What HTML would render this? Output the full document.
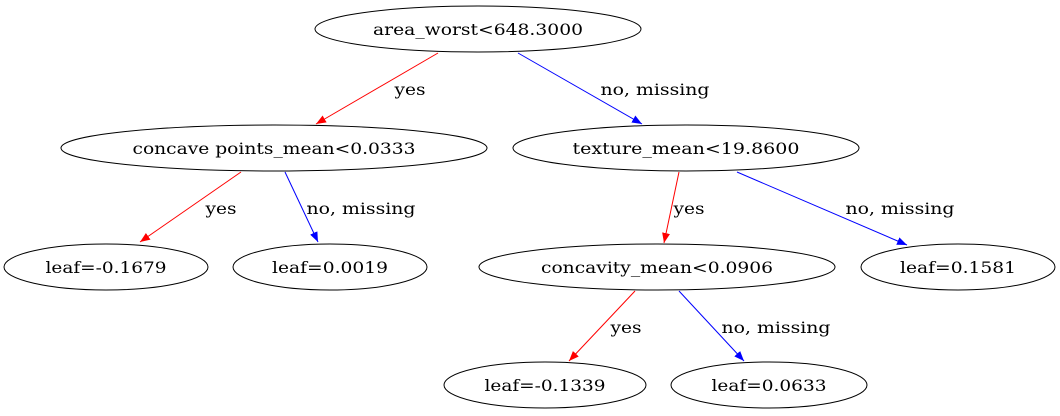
<!DOCTYPE html>
<html><head><meta charset="utf-8"><style>
html,body{margin:0;padding:0;background:#fff;width:1060px;height:416px;overflow:hidden}
text{font-family:"DejaVu Serif","Liberation Serif",serif;font-size:16px;fill:#000}
</style></head><body>
<svg width="1060" height="416" viewBox="0 0 1060 416" xmlns="http://www.w3.org/2000/svg">
<defs>
<marker id="r" viewBox="0 0 10 10" refX="10" refY="5" markerWidth="10" markerHeight="10" markerUnits="userSpaceOnUse" orient="auto"><path d="M0,1L10,5L0,9z" fill="#f00"/></marker>
<marker id="b" viewBox="0 0 10 10" refX="10" refY="5" markerWidth="10" markerHeight="10" markerUnits="userSpaceOnUse" orient="auto"><path d="M0,1L10,5L0,9z" fill="#00f"/></marker>
</defs>
<g fill="none" stroke="#000" stroke-width="1">
<ellipse cx="478" cy="29" rx="163" ry="23"/>
<ellipse cx="274" cy="148" rx="213" ry="23"/>
<ellipse cx="686" cy="148" rx="173" ry="23"/>
<ellipse cx="106" cy="267" rx="102" ry="23"/>
<ellipse cx="330" cy="267" rx="97" ry="23"/>
<ellipse cx="657" cy="267" rx="178" ry="23"/>
<ellipse cx="958" cy="267" rx="97" ry="23"/>
<ellipse cx="545" cy="385" rx="101" ry="23"/>
<ellipse cx="769" cy="385" rx="98" ry="23"/>
</g>
<g stroke-width="1">
<line x1="438" y1="53" x2="316" y2="124" stroke="#f00" marker-end="url(#r)"/>
<line x1="518" y1="53" x2="642" y2="124" stroke="#00f" marker-end="url(#b)"/>
<line x1="241" y1="172" x2="140" y2="242" stroke="#f00" marker-end="url(#r)"/>
<line x1="285" y1="172" x2="318" y2="242" stroke="#00f" marker-end="url(#b)"/>
<line x1="679" y1="172" x2="664" y2="243" stroke="#f00" marker-end="url(#r)"/>
<line x1="737" y1="172" x2="907" y2="245" stroke="#00f" marker-end="url(#b)"/>
<line x1="635" y1="291" x2="569" y2="361" stroke="#f00" marker-end="url(#r)"/>
<line x1="679" y1="291" x2="744" y2="361" stroke="#00f" marker-end="url(#b)"/>
</g>
<g text-anchor="middle">
<text x="478" y="35" textLength="210" lengthAdjust="spacingAndGlyphs">area_worst&lt;648.3000</text>
<text x="274" y="154" textLength="283" lengthAdjust="spacingAndGlyphs">concave points_mean&lt;0.0333</text>
<text x="686" y="154" textLength="227" lengthAdjust="spacingAndGlyphs">texture_mean&lt;19.8600</text>
<text x="106" y="273" textLength="121" lengthAdjust="spacingAndGlyphs">leaf=-0.1679</text>
<text x="330" y="273" textLength="116" lengthAdjust="spacingAndGlyphs">leaf=0.0019</text>
<text x="657" y="273" textLength="232" lengthAdjust="spacingAndGlyphs">concavity_mean&lt;0.0906</text>
<text x="958" y="273" textLength="116" lengthAdjust="spacingAndGlyphs">leaf=0.1581</text>
<text x="545" y="391" textLength="121" lengthAdjust="spacingAndGlyphs">leaf=-0.1339</text>
<text x="769" y="391" textLength="115" lengthAdjust="spacingAndGlyphs">leaf=0.0633</text>
<text x="410" y="95" textLength="31" lengthAdjust="spacingAndGlyphs">yes</text>
<text x="655" y="95" textLength="109" lengthAdjust="spacingAndGlyphs">no, missing</text>
<text x="221" y="214" textLength="31" lengthAdjust="spacingAndGlyphs">yes</text>
<text x="361" y="214" textLength="109" lengthAdjust="spacingAndGlyphs">no, missing</text>
<text x="689" y="214" textLength="31" lengthAdjust="spacingAndGlyphs">yes</text>
<text x="900" y="214" textLength="109" lengthAdjust="spacingAndGlyphs">no, missing</text>
<text x="626" y="333" textLength="31" lengthAdjust="spacingAndGlyphs">yes</text>
<text x="776" y="333" textLength="109" lengthAdjust="spacingAndGlyphs">no, missing</text>
</g>
</svg>
</body></html>
